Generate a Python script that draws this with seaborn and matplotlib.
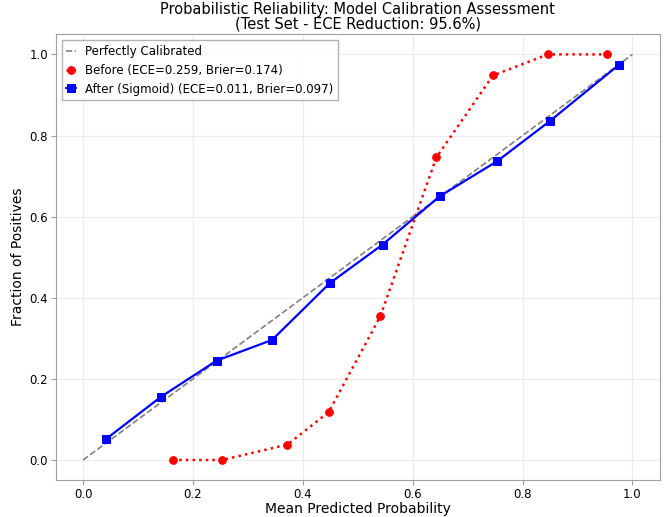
import numpy as np
import pandas as pd
import matplotlib
matplotlib.use("Agg")
import matplotlib.pyplot as plt
import seaborn as sns

# calibration curves
before_pred = [0.163, 0.253, 0.372, 0.447, 0.541, 0.643, 0.746, 0.846, 0.954]
before_frac = [0.0, 0.0, 0.038, 0.118, 0.354, 0.746, 0.948, 1.0, 1.0]
after_pred = [0.042, 0.142, 0.243, 0.344, 0.449, 0.545, 0.649, 0.754, 0.849, 0.975]
after_frac = [0.052, 0.156, 0.245, 0.296, 0.436, 0.531, 0.650, 0.737, 0.835, 0.974]
diag = [0.0, 1.0]

before_label = "Before (ECE=0.259, Brier=0.174)"
after_label = "After (Sigmoid) (ECE=0.011, Brier=0.097)"

sns.set_style("whitegrid", {"grid.color": "#ececec", "axes.edgecolor": "#a0a0a0",
                            "text.color": "black", "axes.labelcolor": "black",
                            "xtick.color": "black", "ytick.color": "black",
                            "xtick.bottom": True, "ytick.left": True})

fig, ax = plt.subplots(figsize=(6.7, 5.17), dpi=100)

sns.lineplot(x=diag, y=diag, ax=ax, color="gray", linestyle="--", lw=1.2,
             label="Perfectly Calibrated")
sns.lineplot(x=before_pred, y=before_frac, ax=ax, color="red", linestyle=":", lw=1.8,
             marker="o", markersize=5.5, markeredgecolor="red", label=before_label)
sns.lineplot(x=after_pred, y=after_frac, ax=ax, color="blue", linestyle="-", lw=1.6,
             marker="s", markersize=5.5, markeredgecolor="blue", label=after_label)

ax.set_xlabel("Mean Predicted Probability", fontsize=10, labelpad=1)
ax.set_ylabel("Fraction of Positives", fontsize=10, labelpad=3)
ax.set_title("Probabilistic Reliability: Model Calibration Assessment\n(Test Set - ECE Reduction: 95.6%)",
             fontsize=10.5, pad=4, linespacing=1.0)
ax.tick_params(labelsize=8.5, length=3.5, width=0.8, color="#a0a0a0", pad=2)
ax.legend(loc="upper left", fontsize=8.5, frameon=True, edgecolor="#a0a0a0", fancybox=False,
          handlelength=0.8)

fig.subplots_adjust(left=0.083, right=0.985, top=0.934, bottom=0.071)
fig.savefig("out.png", dpi=100)
